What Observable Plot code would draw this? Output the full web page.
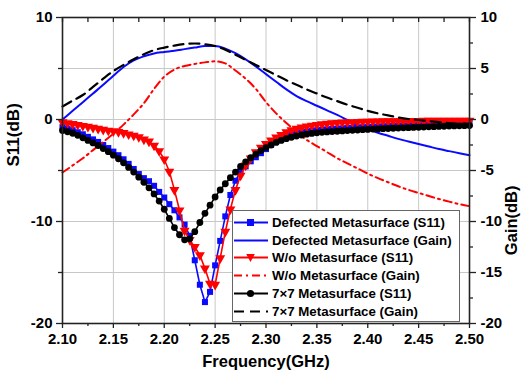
<!DOCTYPE html>
<html><head><meta charset="utf-8">
<script src="https://cdn.jsdelivr.net/npm/d3@7"></script>
<script src="https://cdn.jsdelivr.net/npm/@observablehq/plot@0.6"></script>
<style>
body{margin:0;background:#fff;}
#wrap{position:relative;width:522px;height:375px;font-family:"Liberation Sans",Arial,sans-serif;}
#legend{position:absolute;left:232px;top:210px;width:228px;height:112px;border:1px solid #666;background:#fff;box-sizing:border-box;}
.row{position:absolute;left:0;height:18px;display:flex;align-items:center;font-weight:bold;font-size:13.3px;white-space:nowrap;color:#000;}
.row svg{display:block;margin-right:3px;}
</style></head><body><div id="wrap"></div>
<script>
// ---- data ----
const freqS11 = [2.100,2.105,2.110,2.115,2.120,2.125,2.130,2.135,2.140,2.145,2.150,2.155,2.160,2.165,2.170,2.175,2.180,2.185,2.190,2.195,2.200,2.205,2.210,2.215,2.220,2.225,2.230,2.235,2.240,2.245,2.250,2.255,2.260,2.265,2.270,2.275,2.280,2.285,2.290,2.295,2.300,2.305,2.310,2.315,2.320,2.325,2.330,2.335,2.340,2.345,2.350,2.355,2.360,2.365,2.370,2.375,2.380,2.385,2.390,2.395,2.400,2.405,2.410,2.415,2.420,2.425,2.430,2.435,2.440,2.445,2.450,2.455,2.460,2.465,2.470,2.475,2.480,2.485,2.490,2.495,2.500];
const s11Defected = [-0.75,-0.90,-1.05,-1.25,-1.45,-1.70,-1.95,-2.20,-2.50,-2.80,-3.15,-3.50,-3.90,-4.35,-4.85,-5.35,-5.75,-6.05,-6.50,-7.10,-7.65,-8.30,-8.90,-9.60,-10.30,-11.40,-13.80,-16.20,-17.90,-16.90,-14.30,-11.90,-9.50,-7.40,-6.00,-5.10,-4.60,-4.10,-3.70,-3.30,-2.90,-2.50,-2.10,-1.80,-1.60,-1.45,-1.35,-1.25,-1.18,-1.12,-1.06,-1.01,-0.97,-0.93,-0.90,-0.87,-0.84,-0.81,-0.78,-0.76,-0.74,-0.72,-0.70,-0.68,-0.66,-0.64,-0.62,-0.60,-0.58,-0.56,-0.55,-0.53,-0.52,-0.50,-0.49,-0.48,-0.47,-0.46,-0.45,-0.44,-0.43];
const s11Without = [-0.26,-0.35,-0.43,-0.52,-0.62,-0.70,-0.80,-0.90,-1.00,-1.08,-1.15,-1.22,-1.32,-1.45,-1.58,-1.72,-1.95,-2.15,-2.55,-3.10,-3.90,-5.10,-6.90,-8.90,-10.90,-11.80,-12.50,-13.30,-14.60,-16.10,-16.20,-13.60,-11.00,-8.80,-6.90,-5.50,-4.50,-3.80,-3.20,-2.75,-2.40,-2.05,-1.75,-1.50,-1.25,-1.05,-0.90,-0.78,-0.68,-0.60,-0.52,-0.46,-0.40,-0.36,-0.32,-0.29,-0.27,-0.25,-0.23,-0.21,-0.20,-0.19,-0.18,-0.17,-0.16,-0.15,-0.15,-0.14,-0.14,-0.13,-0.13,-0.12,-0.12,-0.12,-0.11,-0.11,-0.11,-0.10,-0.10,-0.10,-0.10];
const s11Seven = [-1.08,-1.20,-1.35,-1.55,-1.80,-2.05,-2.30,-2.55,-2.85,-3.15,-3.50,-3.85,-4.25,-4.70,-5.15,-5.65,-6.15,-6.70,-7.30,-8.00,-8.80,-9.70,-10.60,-11.30,-11.80,-11.70,-11.00,-10.10,-9.20,-8.40,-7.60,-6.90,-6.30,-5.70,-5.15,-4.60,-4.15,-3.75,-3.40,-3.05,-2.75,-2.50,-2.25,-2.05,-1.88,-1.74,-1.62,-1.52,-1.44,-1.37,-1.31,-1.26,-1.22,-1.18,-1.15,-1.12,-1.09,-1.06,-1.03,-1.00,-0.97,-0.94,-0.92,-0.90,-0.88,-0.86,-0.84,-0.82,-0.80,-0.78,-0.76,-0.74,-0.72,-0.70,-0.68,-0.66,-0.64,-0.63,-0.62,-0.61,-0.60];
const freqGain = [2.10,2.11,2.12,2.13,2.14,2.15,2.16,2.17,2.18,2.19,2.20,2.21,2.22,2.23,2.24,2.25,2.26,2.27,2.28,2.29,2.30,2.31,2.32,2.33,2.34,2.35,2.36,2.37,2.38,2.39,2.40,2.41,2.42,2.43,2.44,2.45,2.46,2.47,2.48,2.49,2.50];
const gainDefected = [0.00,0.85,1.70,2.55,3.40,4.30,5.15,5.80,6.20,6.48,6.62,6.75,6.90,7.05,7.20,7.20,6.95,6.50,5.90,5.20,4.45,3.70,2.95,2.30,1.80,1.35,0.90,0.45,-0.05,-0.55,-0.95,-1.30,-1.60,-1.90,-2.15,-2.40,-2.65,-2.90,-3.10,-3.30,-3.50];
const gainWithout = [-5.20,-4.50,-3.80,-3.00,-2.20,-1.40,-0.50,0.50,1.60,3.00,4.20,4.90,5.25,5.45,5.60,5.70,5.50,4.80,4.00,3.00,1.70,0.60,-0.35,-1.20,-2.00,-2.60,-3.20,-3.80,-4.30,-4.80,-5.30,-5.75,-6.15,-6.55,-6.90,-7.20,-7.50,-7.80,-8.05,-8.30,-8.50];
const gainSeven = [1.27,1.85,2.40,3.20,4.00,4.75,5.35,5.90,6.40,6.80,7.05,7.25,7.40,7.45,7.38,7.20,6.85,6.35,5.85,5.35,4.85,4.35,3.85,3.40,2.95,2.55,2.15,1.80,1.45,1.15,0.85,0.60,0.40,0.20,0.05,-0.05,-0.15,-0.25,-0.35,-0.45,-0.55];
const seriesNames = ["Defected Metasurface (S11)","Defected Metasurface (Gain)","W/o Metasurface (S11)","W/o Metasurface (Gain)","7\u00d77 Metasurface (S11)","7\u00d77 Metasurface (Gain)"];
const xTicks = [2.10,2.15,2.20,2.25,2.30,2.35,2.40,2.45,2.50];
const xMinor = [2.125,2.175,2.225,2.275,2.325,2.375,2.425,2.475];
const yLeftTicks = [10,0,-10,-20];
const yLeftMinor = [5,-5,-15];
const yRightTicks = [10,5,0,-5,-10,-15,-20];
const yRightMinor = [7.5,2.5,-2.5,-7.5,-12.5,-17.5];

// ---- styling ----
const BLUE = "#0a0aff", RED = "#ff0000", BLACK = "#000000";
const FONT = "'Liberation Sans', Arial, sans-serif";
const fmt = d => String(d);
const fmt2 = d => d.toFixed(2);
const none = () => "";

const mk = (xs, ys) => xs.map((f, i) => ({f, v: ys[i]}));
const dDef = mk(freqS11, s11Defected), dWo = mk(freqS11, s11Without), dSev = mk(freqS11, s11Seven);
const gDef = mk(freqGain, gainDefected), gWo = mk(freqGain, gainWithout), gSev = mk(freqGain, gainSeven);

const tx = {fontSize: 15, fontWeight: "bold", fill: "#000"};
const tk = {stroke: "#222", strokeWidth: 1.3, label: null, tickFormat: none};

const chart = Plot.plot({
  width: 522, height: 375,
  marginLeft: 62, marginRight: 53, marginTop: 17, marginBottom: 52,
  x: {domain: [2.1, 2.5]},
  y: {domain: [-20, 10]},
  style: {fontFamily: FONT, background: "#fff", color: "#000"},
  marks: [
    Plot.gridX(xTicks, {stroke: "#c8c8c8", strokeOpacity: 1, strokeWidth: 1}),
    Plot.gridY(yRightTicks, {stroke: "#c8c8c8", strokeOpacity: 1, strokeWidth: 1}),
    // Defected
    Plot.line(dDef, {x: "f", y: "v", stroke: BLUE, strokeWidth: 1.6}),
    Plot.dot(dDef, {x: "f", y: "v", symbol: "square", fill: BLUE, r: 3.4}),
    Plot.line(gDef, {x: "f", y: "v", stroke: BLUE, strokeWidth: 2, curve: "monotone-x"}),
    // W/o
    Plot.line(dWo, {x: "f", y: "v", stroke: RED, strokeWidth: 1.6}),
    Plot.dot(dWo, {x: "f", y: "v", symbol: "triangle", rotate: 180, fill: RED, r: 3.7}),
    Plot.line(gWo, {x: "f", y: "v", stroke: RED, strokeWidth: 2, strokeDasharray: "8,4,2,4", curve: "monotone-x"}),
    // 7x7
    Plot.line(dSev, {x: "f", y: "v", stroke: BLACK, strokeWidth: 1.6}),
    Plot.dot(dSev, {x: "f", y: "v", symbol: "circle", fill: BLACK, r: 3.4}),
    Plot.line(gSev, {x: "f", y: "v", stroke: BLACK, strokeWidth: 2.2, strokeDasharray: "10,6", curve: "monotone-x"}),
    Plot.frame({stroke: "#222", strokeWidth: 1.6}),
    // axes
    Plot.axisX(xTicks, {anchor: "bottom", tickSize: 5, tickPadding: 5, tickFormat: fmt2, label: null, stroke: "#222", strokeWidth: 1.3, ...tx}),
    Plot.axisX(xMinor, {anchor: "bottom", tickSize: 3, ...tk}),
    Plot.axisX(xTicks.concat(xMinor), {anchor: "top", tickSize: -4, ...tk}),
    Plot.axisY(yLeftTicks, {anchor: "left", tickSize: 6, tickPadding: 4, tickFormat: fmt, label: null, stroke: "#222", strokeWidth: 1.3, ...tx}),
    Plot.axisY(yLeftMinor, {anchor: "left", tickSize: 4, ...tk}),
    Plot.axisY(yRightTicks, {anchor: "right", tickSize: 6, tickPadding: 5, tickFormat: fmt, label: null, stroke: "#222", strokeWidth: 1.3, ...tx}),
    Plot.axisY(yRightMinor, {anchor: "right", tickSize: 3, ...tk}),
    Plot.text(["Frequency(GHz)"], {frameAnchor: "bottom", dy: 43, fontSize: 16.5, fontWeight: "bold", fill: "#000"}),
    Plot.text(["S11(dB)"], {frameAnchor: "left", dx: -49, dy: -4, rotate: -90, fontSize: 17, fontWeight: "bold", fill: "#000"}),
    Plot.text(["Gain(dB)"], {frameAnchor: "right", dx: 42, dy: 15, rotate: -90, fontSize: 16.5, fontWeight: "bold", fill: "#000"})
  ]
});
document.getElementById("wrap").appendChild(chart);

// ---- legend ----
const legend = document.createElement("div");
legend.id = "legend";
const legendStyles = [
  {stroke: BLUE, dash: null, sym: "square"},
  {stroke: BLUE, dash: null, sym: null},
  {stroke: RED, dash: null, sym: "tri"},
  {stroke: RED, dash: "8,4,2,4", sym: null},
  {stroke: BLACK, dash: null, sym: "circle"},
  {stroke: BLACK, dash: "10,6", sym: null}
];
seriesNames.forEach((name, i) => {
  const st = legendStyles[i];
  const row = document.createElement("div");
  row.className = "row";
  row.style.top = (2.5 + i * 17.7) + "px";
  let symSvg = "";
  if (st.sym === "square") symSvg = `<rect x="14" y="5" width="7" height="7" fill="${st.stroke}"/>`;
  if (st.sym === "tri") symSvg = `<path d="M13.2,5 L21.8,5 L17.5,13 Z" fill="${st.stroke}"/>`;
  if (st.sym === "circle") symSvg = `<circle cx="17.5" cy="8.5" r="3.6" fill="${st.stroke}"/>`;
  row.innerHTML = `<svg width="36" height="17"><line x1="1" x2="35" y1="8.5" y2="8.5" stroke="${st.stroke}" stroke-width="2.2" ${st.dash ? `stroke-dasharray="${st.dash}"` : ""}/>${symSvg}</svg><span>${name}</span>`;
  legend.appendChild(row);
});
document.getElementById("wrap").appendChild(legend);
</script></body></html>
